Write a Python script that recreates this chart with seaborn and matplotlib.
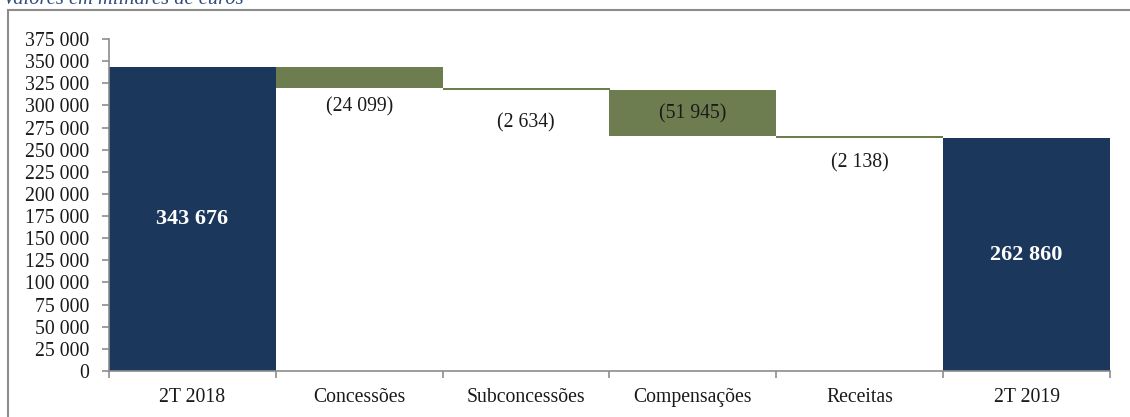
import matplotlib
matplotlib.use("Agg")
import matplotlib.pyplot as plt
import seaborn as sns
import pandas as pd
from matplotlib.patches import Rectangle
from matplotlib.ticker import FuncFormatter, FixedLocator

# ---- data ----
categories = ["2T 2018", "Concessões", "Subconcessões", "Compensações", "Receitas", "2T 2019"]
start_value = 343676
changes = [-24099, -2634, -51945, -2138]
end_value = 262860
y_ticks = list(range(0, 375001, 25000))
title_text = "Valores em milhares de euros"

# ---- derived waterfall geometry ----
heights, bottoms, kinds = [start_value], [0], ["total"]
level = start_value
for c in changes:
    new = level + c
    heights.append(abs(c))
    bottoms.append(min(level, new))
    kinds.append("change")
    level = new
heights.append(end_value)
bottoms.append(0)
kinds.append("total")

df = pd.DataFrame({"cat": categories, "height": heights, "bottom": bottoms, "kind": kinds})

sns.set_theme(style="white")
plt.rcParams["font.family"] = ["Liberation Serif", "DejaVu Serif"]

NAVY = "#1B375C"
GREEN = "#6E7D4F"
GRAY = "#8C8C8C"
TXT = "#1a1a1a"
FS = 14.2

fig = plt.figure(figsize=(11.3, 4.17), dpi=100)
ax = fig.add_axes([109 / 1130, 46 / 417, 1001 / 1130, 332 / 417])

sns.barplot(data=df, x="cat", y="height", width=1.0, color=NAVY, ax=ax,
            errorbar=None, linewidth=0)

for patch, b, k in zip(ax.patches, df["bottom"], df["kind"]):
    patch.set_y(b)
    patch.set_facecolor(NAVY if k == "total" else GREEN)
    patch.set_edgecolor("none")

ax.set_xlim(-0.5, len(categories) - 0.5)
ax.set_ylim(0, 375000)
ax.set_xlabel("")
ax.set_ylabel("")

fmt = FuncFormatter(lambda v, p: f"{int(v):,}".replace(",", " "))
ax.yaxis.set_major_locator(FixedLocator(y_ticks))
ax.yaxis.set_major_formatter(fmt)

for s in ["top", "right"]:
    ax.spines[s].set_visible(False)
for s in ["left", "bottom"]:
    ax.spines[s].set_color(GRAY)
    ax.spines[s].set_linewidth(1.2)

ax.tick_params(axis="y", which="major", direction="out", length=5, width=1.2,
               color=GRAY, labelsize=FS, pad=9, left=True)
ax.tick_params(axis="x", which="major", length=0, labelsize=FS, pad=12)
ax.set_xticks(range(len(categories)))
ax.set_xticklabels(categories)
ax.set_xticks([i - 0.5 for i in range(len(categories) + 1)], minor=True)
ax.tick_params(axis="x", which="minor", direction="out", length=5, width=1.2,
               color=GRAY, bottom=True)
for lbl in ax.get_xticklabels() + ax.get_yticklabels():
    lbl.set_color(TXT)

# value labels
label_offsets_px = [None, 19, 32, None, 25, None]
for i, (h, b, k) in enumerate(zip(df["height"], df["bottom"], df["kind"])):
    if k == "total":
        ax.text(i, b + h / 2, f"{int(h):,}".replace(",", " "), ha="center", va="center",
                color="white", fontsize=16, fontweight="bold")
    else:
        txt = f"({int(h):,})".replace(",", " ")
        if h > 30000:
            ax.text(i, b + h / 2, txt, ha="center", va="center", color=TXT, fontsize=FS)
        else:
            ax.annotate(txt, xy=(i, b), xytext=(0, -label_offsets_px[i] * 0.72),
                        textcoords="offset points", ha="center", va="center",
                        color=TXT, fontsize=FS)

# outer frame
fig.patches.append(Rectangle((8 / 1130, -0.05), 1.2, 1 - 10 / 417 + 0.05,
                             transform=fig.transFigure, fill=False,
                             edgecolor=GRAY, linewidth=1.5, zorder=0))

fig.text(3 / 1130, 1 - 4 / 417, title_text, ha="left", va="baseline",
         fontsize=14.8, style="italic", color="#2F4D7E")

fig.savefig("out.png", dpi=100)
